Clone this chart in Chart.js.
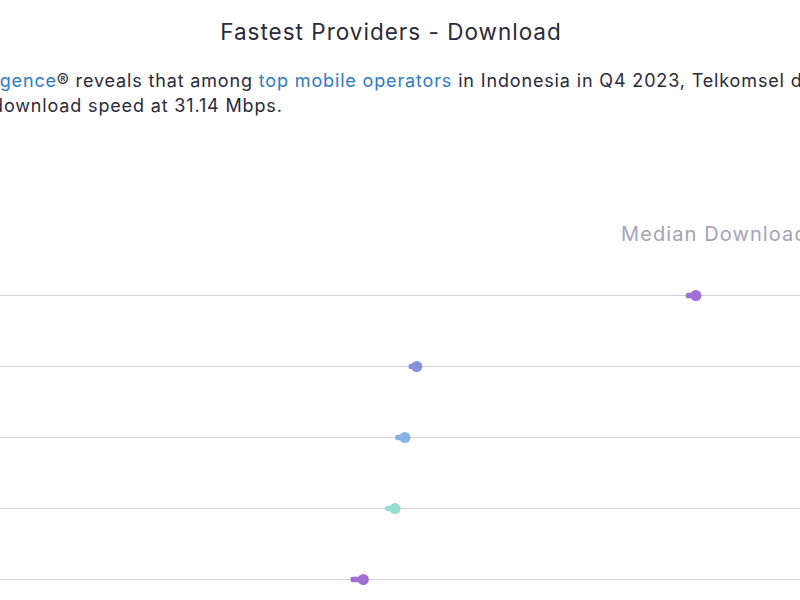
<!DOCTYPE html>
<html>
<head>
<meta charset="utf-8">
<script src="https://cdn.jsdelivr.net/npm/chart.js@4/dist/chart.umd.min.js"></script>
<style>
    html, body { margin: 0; padding: 0; background: #fff; }
    body { width: 800px; height: 600px; overflow: hidden; position: relative; font-family: Inter, "Open Sans", sans-serif; }
    .title { position: absolute; top: 18px; left: 0; width: 782px; text-align: center; font-size: 22.5px; letter-spacing: 1px; color: #2a2a3c; }
    .line { position: absolute; white-space: nowrap; font-size: 18px; letter-spacing: 0.85px; color: #2a2a3c; }
    .line a { color: #2f7cc6; text-decoration: none; }
    .header { position: absolute; top: 222px; left: 621px; white-space: nowrap; font-size: 20px; letter-spacing: 1.1px; color: #a4a4b6; }
    .chart-box { position: absolute; left: 0; top: 260px; width: 800px; height: 355px; }
</style>
</head>
<body>
<div class="title">Fastest Providers - Download</div>
<div class="line" id="line1"><span class="cut">Speedtest Intelli</span><a>gence</a>® reveals that among <a>top mobile operators</a> in Indonesia in Q4 2023, Telkomsel delivered the fastest median</div>
<div class="line" id="line2"><span class="cut">d</span>ownload speed at 31.14 Mbps.</div>
<div class="header">Median Download</div>
<div class="chart-box"><canvas id="speedChart"></canvas></div>
<script>
const providers = ["Telkomsel", "XL", "IM3", "Tri", "Smartfren"];
const medianDownload = [31.14, 18.65, 18.12, 17.68, 16.26];
const lowerBound = [30.7, 18.3, 17.7, 17.25, 15.7];
const providerColors = ["#a070d6", "#8591dd", "#85b3e5", "#95dcd1", "#a070d6"];

(() => {
    // shift each text line so the cut-off prefix sits left of the window
    const placeLine = (id, top, keep) => {
        const line = document.getElementById(id);
        const cut = line.querySelector(".cut");
        line.style.top = top + "px";
        line.style.left = (keep - cut.offsetWidth) + "px";
    };
    placeLine("line1", 70, 0);
    placeLine("line2", 95, 4);

    new Chart(document.getElementById("speedChart"), {
        type: "bar",
        data: {
            labels: providers,
            datasets: [
                {
                    type: "line",
                    data: medianDownload,
                    showLine: false,
                    pointRadius: 5.5,
                    pointBackgroundColor: providerColors,
                    pointBorderWidth: 0,
                    order: 0
                },
                {
                    data: providers.map((p, i) => [lowerBound[i], medianDownload[i]]),
                    backgroundColor: providerColors,
                    barThickness: 5,
                    borderRadius: 2,
                    borderSkipped: false,
                    order: 1
                }
            ]
        },
        options: {
            indexAxis: "y",
            responsive: true,
            maintainAspectRatio: false,
            animation: false,
            layout: { padding: 0, autoPadding: false },
            plugins: { legend: { display: false }, tooltip: { enabled: false } },
            scales: {
                x: { display: false, min: 0, max: 35.8 },
                y: {
                    ticks: { display: false },
                    border: { display: false },
                    grid: { offset: false, drawTicks: false, color: "#d3d3df", lineWidth: 1 }
                }
            }
        }
    });
})();
</script>
</body>
</html>
